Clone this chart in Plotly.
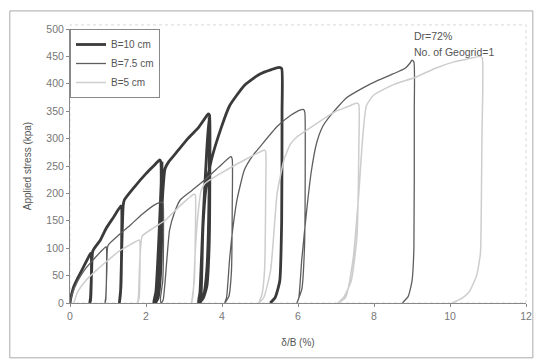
import plotly.graph_objects as go

# ---- data ----
series_names = ["B=10 cm", "B=7.5 cm", "B=5 cm"]

b10_x = [0, 0.03, 0.1, 0.2, 0.35, 0.52, 0.55, 0.56, 0.56, 0.54, 0.52,
         0.54, 0.57, 0.6, 0.8, 0.95, 1.15, 1.34, 1.36,
         1.36, 1.34, 1.3,
         1.33, 1.37, 1.40, 1.43, 1.7, 2.0, 2.2, 2.36, 2.39,
         2.39, 2.36, 2.3, 2.2,
         2.26, 2.34, 2.40, 2.42,
         2.42, 2.38, 2.32, 2.25,
         2.3, 2.38, 2.44, 2.5, 2.6, 2.77, 3.1, 3.38, 3.55, 3.64, 3.67,
         3.68, 3.66, 3.6, 3.5, 3.38,
         3.42, 3.5, 3.6, 3.66,
         3.66, 3.6, 3.52, 3.42,
         3.45, 3.5, 3.58, 3.72, 3.98, 4.2, 4.6, 5.0, 5.3, 5.5, 5.57,
         5.58, 5.57, 5.52, 5.4, 5.27]
b10_y = [0, 12, 30, 45, 65, 88, 91, 88, 40, 5, 0,
         10, 60, 95, 115, 136, 157, 177, 174,
         120, 30, 0,
         20, 120, 178, 188, 212, 236, 250, 261, 258,
         150, 40, 10, 0,
         20, 120, 220, 255,
         150, 50, 10, 0,
         20, 120, 200, 245, 258, 272, 300, 320, 337, 345, 343,
         250, 100, 30, 8, 0,
         20, 150, 280, 340,
         200, 60, 15, 0,
         15, 139, 210, 261, 320, 360, 398, 418, 426, 430, 428,
         350, 150, 40, 10, 0]

b75_x = [0, 0.05, 0.2, 0.4, 0.6, 0.8, 0.95, 0.96,
         0.96, 0.94, 0.92,
         0.94, 0.97, 1.0, 1.3, 1.6, 1.9, 2.25, 2.42, 2.45,
         2.46, 2.44, 2.38, 2.4,
         2.45, 2.55, 2.62, 2.75, 2.9, 3.2, 3.55, 3.9, 4.2, 4.24, 4.27,
         4.27, 4.25, 4.18, 4.07,
         4.12, 4.2, 4.29, 4.4, 4.59, 4.8, 5.0, 5.45, 5.8, 6.05, 6.15, 6.18,
         6.19, 6.17, 6.1, 5.97,
         6.02, 6.1, 6.23, 6.35, 6.49, 6.65, 6.83, 7.27, 7.7, 8.13, 8.5, 8.83, 8.95, 9.0, 9.05,
         9.06, 9.05, 9.0, 8.9, 8.75]
b75_y = [0, 15, 40, 62, 78, 93, 103, 100,
         50, 5, 0,
         10, 60, 105, 125, 143, 162, 180, 184, 181,
         120, 40, 8, 0,
         5, 80, 133, 165, 188, 205, 225, 247, 266, 267, 262,
         180, 60, 12, 0,
         10, 80, 139, 190, 243, 268, 285, 322, 342, 352, 353, 348,
         250, 100, 25, 0,
         9, 80, 170, 240, 292, 322, 340, 374, 392, 407, 418, 429, 438, 443, 440,
         350, 100, 40, 12, 0]

b5_x = [0.1, 0.2, 0.43, 0.7, 1.0, 1.3, 1.6, 1.82, 1.84,
        1.84, 1.82, 1.78,
        1.8, 1.84, 1.9, 2.2, 2.51, 2.86, 3.1, 3.27, 3.3,
        3.3, 3.27, 3.2,
        3.24, 3.3, 3.38, 3.45, 3.55, 4.0, 4.59, 4.9, 5.12, 5.15,
        5.15, 5.12, 5.05, 4.97,
        5.1, 5.28, 5.4, 5.45, 5.63, 5.8, 5.97, 6.5, 7.0, 7.3, 7.55, 7.6,
        7.6, 7.55, 7.4, 7.2, 7.05,
        7.25, 7.45, 7.6, 7.7, 7.8, 8.0, 8.5, 9.09, 9.6, 10.1, 10.5, 10.8, 10.85,
        10.84, 10.82, 10.8, 10.7, 10.5, 10.3, 10.05]
b5_y = [0, 20, 42, 60, 78, 95, 107, 115, 112,
        60, 10, 0,
        10, 80, 122, 137, 151, 175, 190, 199, 196,
        130, 40, 0,
        15, 100, 170, 205, 218, 238, 261, 272, 279, 276,
        200, 60, 15, 0,
        10, 60, 160, 200, 261, 290, 303, 328, 350, 358, 365, 362,
        280, 120, 40, 10, 0,
        10, 80, 200, 300, 360, 380, 398, 412, 428, 440, 446, 450, 447,
        300, 150, 90, 50, 20, 8, 0]

x_ticks = [0, 2, 4, 6, 8, 10, 12]
y_ticks = [0, 50, 100, 150, 200, 250, 300, 350, 400, 450, 500]

colors = ["#3a3a3a", "#5e5e5e", "#cdcdcd"]
widths = [2.8, 1.3, 1.5]

font_family = "Liberation Sans, Arial, sans-serif"

fig = go.Figure()
for name, xs, ys, c, w in zip(series_names, [b10_x, b75_x, b5_x], [b10_y, b75_y, b5_y], colors, widths):
    fig.add_trace(go.Scatter(x=xs, y=ys, mode="lines", name=name,
                             line=dict(color=c, width=w, shape="spline", smoothing=0.5)))

fig.update_layout(
    width=541, height=361,
    margin=dict(l=70, r=9, t=29, b=58),
    paper_bgcolor="white", plot_bgcolor="white",
    font=dict(family=font_family, size=10, color="#666"),
    showlegend=True,
    legend=dict(x=0, y=1, xanchor="left", yanchor="top",
                bordercolor="#888", borderwidth=1, bgcolor="white",
                font=dict(size=10, color="#555"), itemwidth=30,
                tracegroupgap=0),
    xaxis=dict(range=[0, 12], tickvals=x_ticks, showgrid=False, zeroline=False,
               showline=True, linecolor="#888", linewidth=1,
               ticks="outside", ticklen=3, tickcolor="#888",
               tickfont=dict(size=10.5, color="#777"),
               title=dict(text="δ/B (%)", font=dict(size=10, color="#555"), standoff=18)),
    yaxis=dict(range=[0, 500], tickvals=y_ticks, showgrid=False, zeroline=False,
               showline=True, linecolor="#888", linewidth=1,
               ticks="outside", ticklen=3, tickcolor="#888",
               tickfont=dict(size=10.5, color="#777"),
               title=dict(text="Applied stress (kpa)", font=dict(size=10, color="#555"), standoff=12)),
    shapes=[
        dict(type="rect", xref="paper", yref="paper", x0=0, x1=1, y0=0, y1=1.015,
             line=dict(color="#d8d8d8", width=1, dash="dot"), layer="below"),
        dict(type="rect", xref="paper", yref="paper", x0=-0.132, x1=1.015, y0=-0.2, y1=1.066,
             line=dict(color="#aaa", width=1), layer="below"),
    ],
    annotations=[
        dict(text="Dr=72%", xref="paper", yref="paper", x=(416 - 70) / 462, y=(303 - 36) / 274,
             xanchor="left", yanchor="middle", showarrow=False, font=dict(size=10.5, color="#555")),
        dict(text="No. of Geogrid=1", xref="paper", yref="paper", x=(416 - 70) / 462, y=(303 - 52) / 274,
             xanchor="left", yanchor="middle", showarrow=False, font=dict(size=10.5, color="#555")),
    ],
)

fig.write_html("out.html",
               config={"displayModeBar": False},
               post_script="document.body.style.margin='0';document.body.style.overflow='hidden';")
